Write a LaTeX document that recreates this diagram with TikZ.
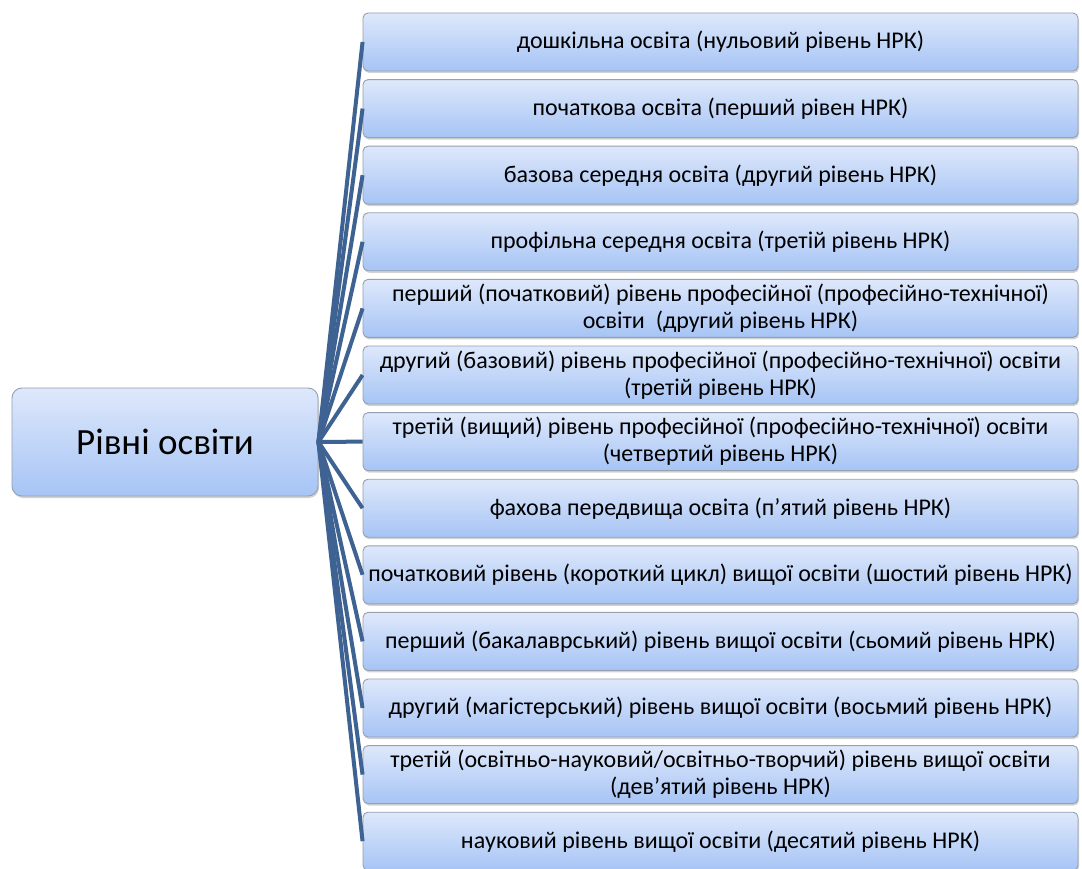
\documentclass[tikz,border=0pt]{standalone}
\usepackage{fontspec}
\setmainfont{Carlito}
\usetikzlibrary{shadows}
\definecolor{boxtop}{RGB}{222,232,251}
\definecolor{boxbot}{RGB}{166,196,245}
\definecolor{boxline}{RGB}{150,160,175}
\definecolor{conn}{RGB}{62,99,146}
\begin{document}
\begin{tikzpicture}[x=1pt,y=-1pt,
  lvl/.style={draw=boxline, line width=0.9pt, rounded corners=5pt,
    top color=boxtop, bottom color=boxbot,
    drop shadow={opacity=0.35, shadow xshift=1pt, shadow yshift=-2pt},
    minimum width=715pt, minimum height=58pt, inner sep=0pt,
    align=center, font=\fontsize{24}{27}\selectfont},
  rootbox/.style={draw=boxline, line width=0.9pt, rounded corners=10pt,
    top color=boxtop, bottom color=boxbot,
    drop shadow={opacity=0.35, shadow xshift=1pt, shadow yshift=-2pt},
    minimum width=306pt, minimum height=108pt, inner sep=0pt,
    font=\fontsize{37}{42}\selectfont},
  link/.style={draw=conn, line width=4pt}]
\useasboundingbox (0,0) rectangle (1082,869);
\fill[white] (0,0) rectangle (1082,869);
\node[rootbox] (root) at (165,442) {Рівні освіти};
\node[lvl] (b1) at (720.5,42) {дошкільна освіта (нульовий рівень НРК)};
\node[lvl] (b2) at (720.5,108.6) {початкова освіта (перший рівен НРК)};
\node[lvl] (b3) at (720.5,175.2) {базова середня освіта (другий рівень НРК)};
\node[lvl] (b4) at (720.5,241.8) {профільна середня освіта (третій рівень НРК)};
\node[lvl] (b5) at (720.5,308.4) {перший (початковий) рівень професійної (професійно-технічної)\\освіти\ \ (другий рівень НРК)};
\node[lvl] (b6) at (720.5,375) {другий (базовий) рівень професійної (професійно-технічної) освіти\\(третій рівень НРК)};
\node[lvl] (b7) at (720.5,441.6) {третій (вищий) рівень професійної (професійно-технічної) освіти\\(четвертий рівень НРК)};
\node[lvl] (b8) at (720.5,508.2) {фахова передвища освіта (п’ятий рівень НРК)};
\node[lvl] (b9) at (720.5,574.8) {початковий рівень (короткий цикл) вищої освіти (шостий рівень НРК)};
\node[lvl] (b10) at (720.5,641.4) {перший (бакалаврський) рівень вищої освіти (сьомий рівень НРК)};
\node[lvl] (b11) at (720.5,708) {другий (магістерський) рівень вищої освіти (восьмий рівень НРК)};
\node[lvl] (b12) at (720.5,774.6) {третій (освітньо-науковий/освітньо-творчий) рівень вищої освіти\\(дев’ятий рівень НРК)};
\node[lvl] (b13) at (720.5,841.2) {науковий рівень вищої освіти (десятий рівень НРК)};
\foreach \i in {1,...,13}{
  \draw[link] (root.east) -- (b\i.west);
}
\end{tikzpicture}
\end{document}
